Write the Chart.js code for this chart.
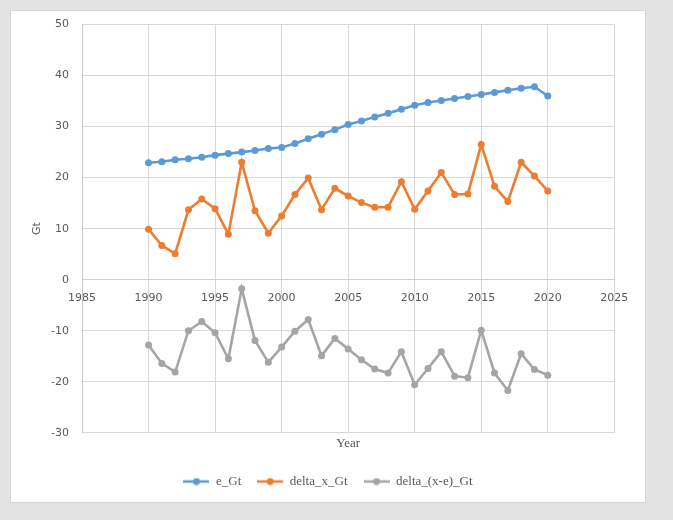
<!DOCTYPE html>
<html>
<head>
<meta charset="utf-8">
<script src="https://cdn.jsdelivr.net/npm/chart.js@4/dist/chart.umd.min.js"></script>
<style>
  html, body { margin: 0; padding: 0; background: #e3e3e3; }
  #wrap { width: 673px; height: 520px; position: relative; }
</style>
</head>
<body>
<div id="wrap"><canvas id="c" width="673" height="520"></canvas></div>
<script>
const years = [1990,1991,1992,1993,1994,1995,1996,1997,1998,1999,2000,2001,2002,2003,2004,2005,2006,2007,2008,2009,2010,2011,2012,2013,2014,2015,2016,2017,2018,2019,2020];
const eGt = [22.9,23.1,23.5,23.7,24.0,24.4,24.7,25.0,25.3,25.7,25.9,26.7,27.6,28.5,29.4,30.4,31.1,31.9,32.6,33.4,34.2,34.7,35.1,35.5,35.9,36.3,36.7,37.1,37.5,37.8,36.0];
const deltaX = [9.9,6.7,5.1,13.7,15.8,13.9,8.9,23.0,13.5,9.1,12.5,16.7,19.9,13.7,17.9,16.4,15.1,14.2,14.2,19.2,13.8,17.4,21.0,16.7,16.8,26.5,18.3,15.3,23.0,20.3,17.4];
const deltaXE = [-12.8,-16.4,-18.1,-10.0,-8.2,-10.4,-15.5,-1.8,-11.9,-16.2,-13.2,-10.1,-7.8,-14.9,-11.5,-13.6,-15.7,-17.5,-18.3,-14.1,-20.6,-17.4,-14.1,-18.9,-19.2,-9.9,-18.3,-21.7,-14.5,-17.6,-18.7];
const seriesNames = ['e_Gt','delta_x_Gt','delta_(x-e)_Gt'];
const seriesColors = ['#5b9bd5','#ed7d31','#a5a5a5'];
const xTicks = {min: 1985, max: 2025, step: 5};
const yTicks = {min: -30, max: 50, step: 10};

const serifFont = '"Liberation Serif", serif';
const sansFont = '"DejaVu Sans", Verdana, sans-serif';

function legendMarker(color) {
  const cv = document.createElement('canvas');
  cv.width = 26; cv.height = 8;
  const g = cv.getContext('2d');
  g.strokeStyle = color; g.lineWidth = 2.5;
  g.beginPath(); g.moveTo(0, 4); g.lineTo(26, 4); g.stroke();
  g.fillStyle = color;
  g.beginPath(); g.arc(13, 4, 3.5, 0, Math.PI * 2); g.fill();
  return cv;
}

const cardPlugin = {
  id: 'card',
  beforeDraw(chart) {
    const ctx = chart.ctx;
    ctx.save();
    ctx.fillStyle = '#e3e3e3';
    ctx.fillRect(0, 0, chart.width, chart.height);
    ctx.fillStyle = '#ffffff';
    ctx.fillRect(10, 10, 636, 493);
    ctx.strokeStyle = '#d6d6d6';
    ctx.lineWidth = 1;
    ctx.strokeRect(10.5, 10.5, 635, 492);
    ctx.restore();
  }
};

const datasets = [eGt, deltaX, deltaXE].map((vals, i) => ({
  label: seriesNames[i],
  data: years.map((y, k) => ({x: y, y: vals[k]})),
  borderColor: seriesColors[i],
  backgroundColor: seriesColors[i],
  pointBackgroundColor: seriesColors[i],
  pointBorderColor: seriesColors[i],
  borderWidth: 2.6,
  pointRadius: 3.5,
  pointBorderWidth: 0,
  tension: 0
}));

new Chart(document.getElementById('c'), {
  type: 'line',
  data: { datasets },
  plugins: [cardPlugin],
  options: {
    responsive: false,
    animation: false,
    devicePixelRatio: 1,
    layout: { padding: { left: 41.7, right: 58.7, top: 24.5, bottom: 22 } },
    scales: {
      x: {
        type: 'linear',
        position: { y: 0 },
        min: xTicks.min, max: xTicks.max,
        ticks: { stepSize: xTicks.step, color: '#595959', font: { family: sansFont, size: 11 }, padding: 12, callback: v => String(v), maxRotation: 0 },
        grid: { color: '#d9d9d9', lineWidth: 1, drawTicks: false },
        border: { color: '#d0d0d0', width: 1 }
      },
      xTitle: {
        type: 'linear',
        position: 'bottom',
        axis: 'x',
        min: xTicks.min, max: xTicks.max,
        ticks: { display: false },
        grid: { display: false, drawTicks: false },
        border: { display: false },
        title: { display: true, text: 'Year', color: '#595959', font: { family: serifFont, size: 13 }, padding: { top: 3.2, bottom: 7.4 } }
      },
      y: {
        type: 'linear',
        position: 'left',
        min: yTicks.min, max: yTicks.max,
        ticks: { stepSize: yTicks.step, color: '#595959', font: { family: sansFont, size: 11 }, padding: 13 },
        grid: { color: '#d9d9d9', lineWidth: 1, drawTicks: false },
        border: { color: '#c8c8c8', width: 1 },
        title: { display: true, text: 'Gt', color: '#595959', font: { family: sansFont, size: 11 }, padding: { top: -11.3, bottom: 4 } },
        afterFit(scale) { scale.width = 40.3; }
      }
    },
    plugins: {
      tooltip: { enabled: false },
      legend: {
        position: 'bottom',
        labels: {
          color: '#595959',
          font: { family: serifFont, size: 13 },
          usePointStyle: true,
          pointStyleWidth: 26,
          padding: 16,
          generateLabels(chart) {
            return chart.data.datasets.map((ds, i) => ({
              text: ds.label,
              fillStyle: seriesColors[i],
              strokeStyle: seriesColors[i],
              lineWidth: 0,
              pointStyle: legendMarker(seriesColors[i]),
              datasetIndex: i,
              hidden: false,
              fontColor: '#595959'
            }));
          }
        }
      }
    }
  }
});
</script>
</body>
</html>
